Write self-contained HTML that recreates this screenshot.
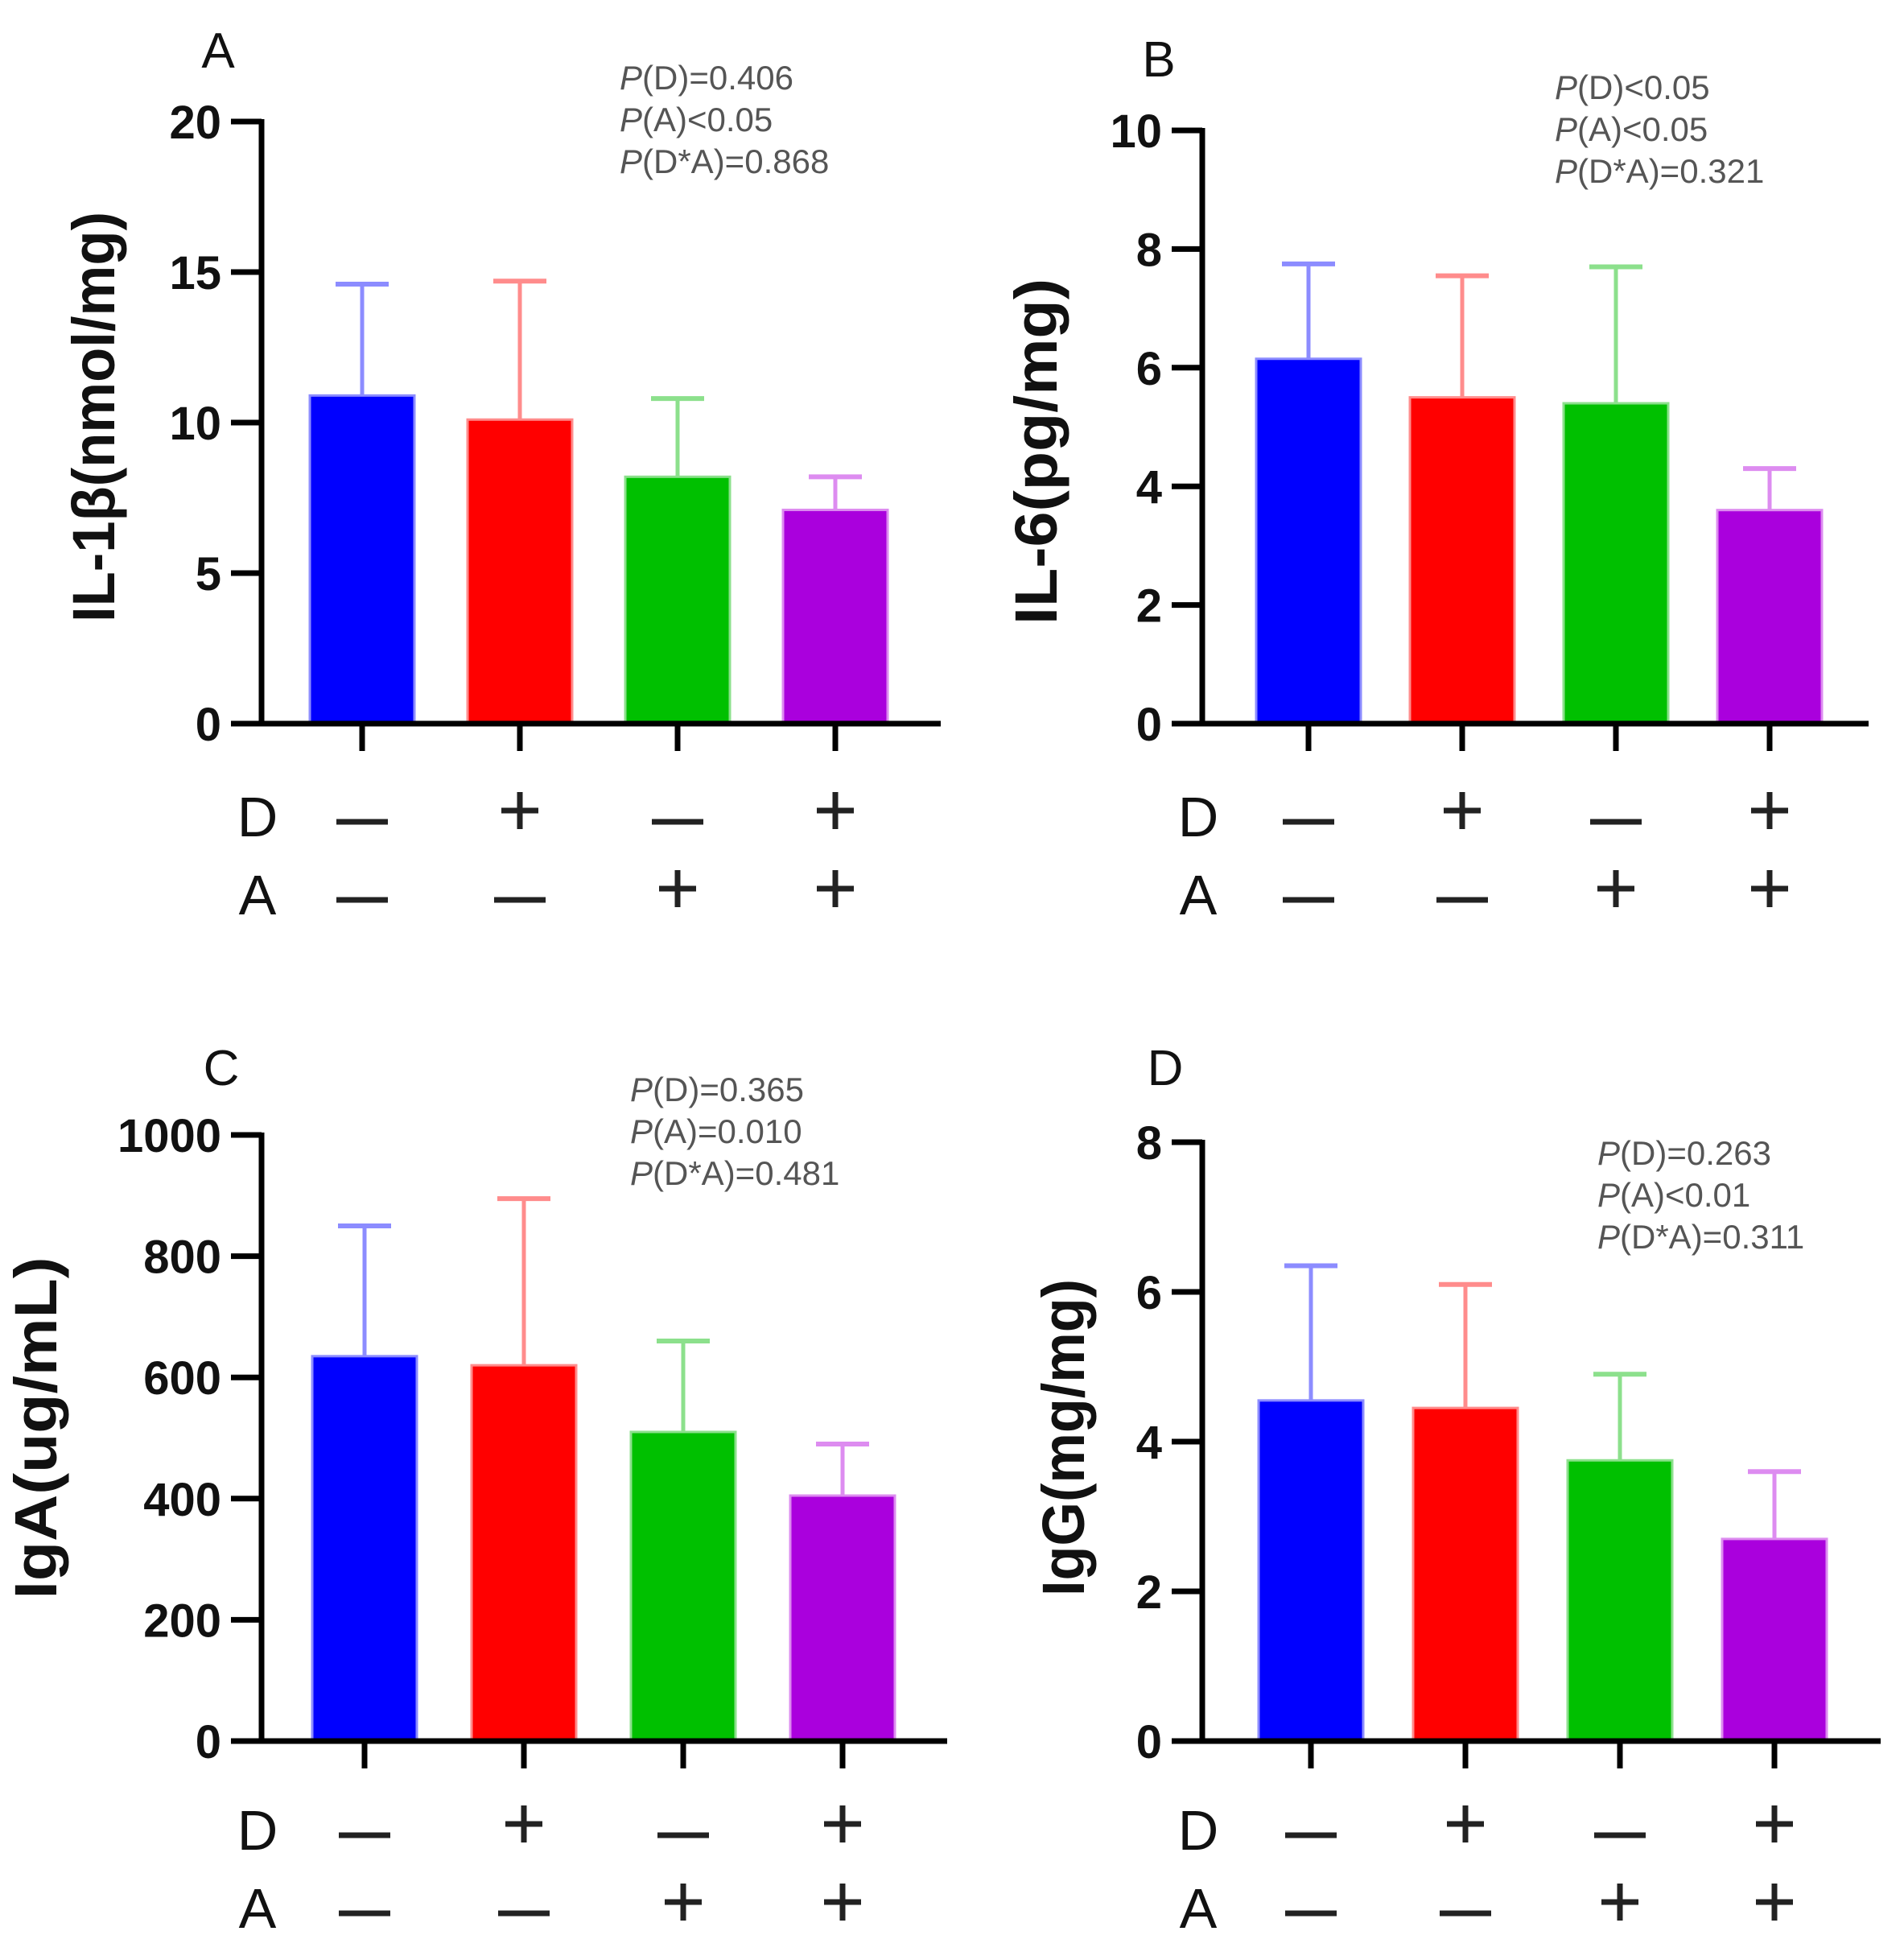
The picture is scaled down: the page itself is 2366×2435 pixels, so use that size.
<!DOCTYPE html>
<html><head><meta charset="utf-8"><style>
html,body{margin:0;padding:0;background:#fff;}
svg{display:block;font-family:"Liberation Sans",Arial,sans-serif;}
</style></head><body>
<svg id="fig" width="2366" height="2435" viewBox="0 0 2366 2435" xmlns="http://www.w3.org/2000/svg"></svg>
<script>
// ---- data ----
const groups = ["D-A-", "D+A-", "D-A+", "D+A+"];
const dRow = ["-", "+", "-", "+"];
const aRow = ["-", "-", "+", "+"];
const il1bMeans = [10.9, 10.1, 8.2, 7.1];
const il1bErr = [14.6, 14.7, 10.8, 8.2];
const il1bTicks = [0, 5, 10, 15, 20];
const il6Means = [6.15, 5.5, 5.4, 3.6];
const il6Err = [7.75, 7.55, 7.7, 4.3];
const il6Ticks = [0, 2, 4, 6, 8, 10];
const igaMeans = [635, 620, 510, 405];
const igaErr = [850, 895, 660, 490];
const igaTicks = [0, 200, 400, 600, 800, 1000];
const iggMeans = [4.55, 4.45, 3.75, 2.7];
const iggErr = [6.35, 6.1, 4.9, 3.6];
const iggTicks = [0, 2, 4, 6, 8];
const pA = ["(D)=0.406", "(A)<0.05", "(D*A)=0.868"];
const pB = ["(D)<0.05", "(A)<0.05", "(D*A)=0.321"];
const pC = ["(D)=0.365", "(A)=0.010", "(D*A)=0.481"];
const pD = ["(D)=0.263", "(A)<0.01", "(D*A)=0.311"];

const fills = ["#0000ff", "#ff0000", "#00c000", "#aa00dd"];
const lights = ["#8c8cff", "#ff8c8c", "#8ce08c", "#dd8cf0"];
const NS = "http://www.w3.org/2000/svg";
const svg = document.getElementById("fig");

function mk(tag, attrs, parent) {
  const e = document.createElementNS(NS, tag);
  for (const k in attrs) e.setAttribute(k, attrs[k]);
  (parent || svg).appendChild(e);
  return e;
}

function panel(cfg) {
  const g = mk("g", {});
  
  
  const max = cfg.ticks[cfg.ticks.length - 1];
  const y = v => cfg.y0 - (v / max) * (cfg.y0 - cfg.yTop);
  const bw = 130;
  const cx = i => cfg.cx0 + i * cfg.step;
  cfg.means.forEach((m, i) => {
    const ex = cx(i);
    const eb = mk("line", {x1: ex, x2: ex, y1: y(m), y2: y(cfg.err[i]), stroke: lights[i], "stroke-width": 5}, g);
    
    
    const cap = mk("line", {x1: ex - 33, x2: ex + 33, y1: y(cfg.err[i]), y2: y(cfg.err[i]), stroke: lights[i], "stroke-width": 6}, g);
    
    
    const r = mk("rect", {x: ex - bw / 2, y: y(m), width: bw, height: y(0) - y(m), fill: fills[i], stroke: lights[i], "stroke-width": 3}, g);
    
    
  });
  const yAx = mk("line", {x1: cfg.ax, x2: cfg.ax, y1: cfg.yTop - 3, y2: cfg.y0 + 3, stroke: "#000", "stroke-width": 7}, g);
  
  
  const xAx = mk("line", {x1: cfg.ax - 38, x2: cfg.xEnd, y1: cfg.y0, y2: cfg.y0, stroke: "#000", "stroke-width": 7}, g);
  
  
  cfg.ticks.forEach(t => {
    mk("line", {x1: cfg.ax - 38, x2: cfg.ax, y1: y(t), y2: y(t), stroke: "#000", "stroke-width": 7}, g);
    const tl = mk("text", {x: cfg.ax - 50, y: y(t) + 21, "text-anchor": "end", "font-size": 58, "font-weight": "bold", fill: "#111"}, g);
    tl.textContent = t;
    
    
  });
  for (let i = 0; i < 4; i++) {
    mk("line", {x1: cx(i), x2: cx(i), y1: cfg.y0, y2: cfg.y0 + 34, stroke: "#000", "stroke-width": 7}, g);
  }
  const tt = mk("text", {x: 0, y: 0, transform: `translate(${cfg.tx},${cfg.ty}) rotate(-90)`, "text-anchor": "middle", "font-size": 74, "font-weight": "bold", fill: "#111", textLength: cfg.tlen, lengthAdjust: "spacingAndGlyphs"}, g);
  tt.textContent = cfg.title;
  
  
  const pl = mk("text", {x: cfg.lx, y: cfg.ly + 22, "text-anchor": "middle", "font-size": 62, fill: "#111"}, g);
  pl.textContent = cfg.letter;
  
  
  cfg.p.forEach((s, k) => {
    const t = mk("text", {x: cfg.px, y: cfg.py + k * 52 + 15, "font-size": 42, fill: "#555"}, g);
    const it = mk("tspan", {"font-style": "italic"}, t);
    it.textContent = "P";
    const rest = mk("tspan", {}, t);
    rest.textContent = s;
    
    
  });
  [["D", dRow, cfg.dy], ["A", aRow, cfg.dy + 97]].forEach(([lab, row, ry]) => {
    const l = mk("text", {x: cfg.ax - 5, y: ry + 26, "text-anchor": "middle", "font-size": 70, fill: "#111"}, g);
    l.textContent = lab;
    
    
    row.forEach((s, i) => {
      const c = cx(i);
      if (s === "-") {
        mk("line", {x1: c - 32, x2: c + 32, y1: ry + 8, y2: ry + 8, stroke: "#222", "stroke-width": 7}, g);
      } else {
        mk("line", {x1: c - 23, x2: c + 23, y1: ry - 6, y2: ry - 6, stroke: "#222", "stroke-width": 7}, g);
        mk("line", {x1: c, x2: c, y1: ry - 29, y2: ry + 17, stroke: "#222", "stroke-width": 7}, g);
      }
    });
  });
}

panel({name: "panel-a-il1b", letter: "A", means: il1bMeans, err: il1bErr, ticks: il1bTicks, p: pA,
  ax: 325, y0: 899, yTop: 151, xEnd: 1169, cx0: 450, step: 196, tx: 142, ty: 518, tlen: 510, title: "IL-1β(nmol/mg)",
  lx: 271, ly: 62, px: 770, py: 96, dy: 1013});
panel({name: "panel-b-il6", letter: "B", means: il6Means, err: il6Err, ticks: il6Ticks, p: pB,
  ax: 1494, y0: 899, yTop: 162, xEnd: 2322, cx0: 1626, step: 191, tx: 1313, ty: 561, tlen: 430, title: "IL-6(pg/mg)",
  lx: 1440, ly: 73, px: 1932, py: 108, dy: 1013});
panel({name: "panel-c-iga", letter: "C", means: igaMeans, err: igaErr, ticks: igaTicks, p: pC,
  ax: 325, y0: 2163, yTop: 1410, xEnd: 1177, cx0: 453, step: 198, tx: 70, ty: 1774, tlen: 425, title: "IgA(ug/mL)",
  lx: 275, ly: 1326, px: 783, py: 1353, dy: 2272});
panel({name: "panel-d-igg", letter: "D", means: iggMeans, err: iggErr, ticks: iggTicks, p: pD,
  ax: 1494, y0: 2163, yTop: 1419, xEnd: 2337, cx0: 1629, step: 192, tx: 1347, ty: 1786, tlen: 394, title: "IgG(mg/mg)",
  lx: 1448, ly: 1326, px: 1985, py: 1432, dy: 2272});
</script>
</body></html>
